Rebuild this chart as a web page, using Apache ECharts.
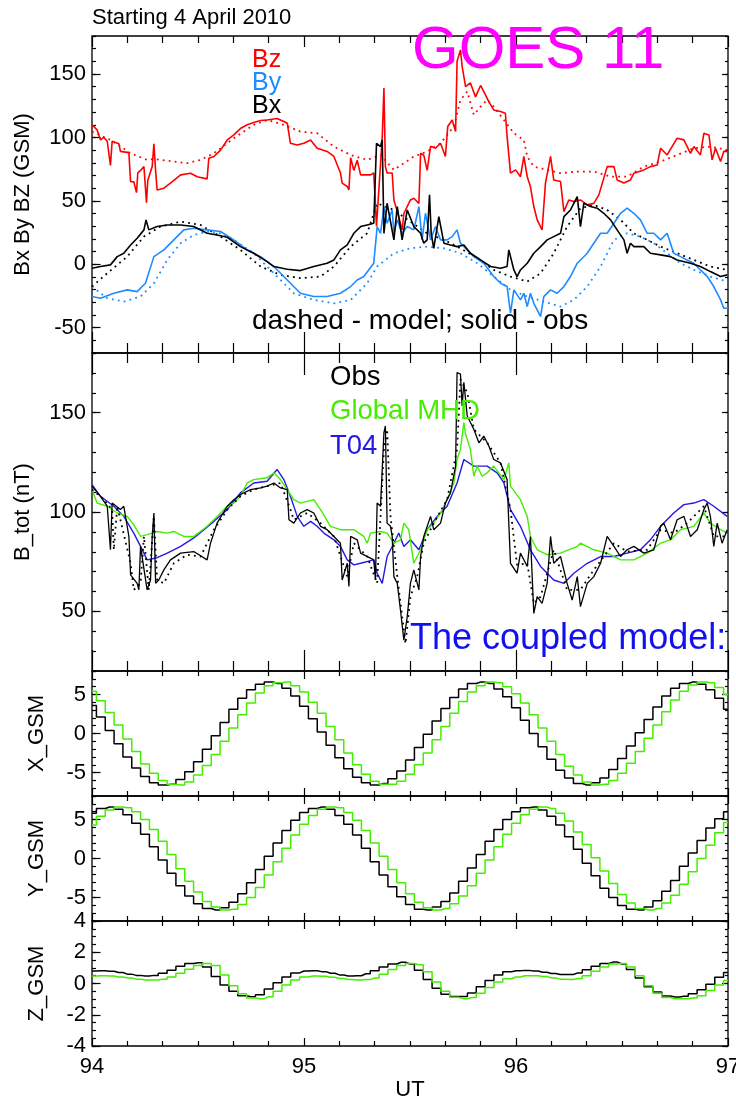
<!DOCTYPE html>
<html>
<head>
<meta charset="utf-8">
<title>GOES 11</title>
<script src="https://cdn.jsdelivr.net/npm/echarts@6/dist/echarts.min.js"></script>
<style>
html, body { margin: 0; padding: 0; background: #fff; }
#main { width: 736px; height: 1103px; }
</style>
</head>
<body>
<div id="main"></div>
<script>
// panel 1: field components, [day of year, nT]
var bzObs = [[94.000,110],[94.024,106],[94.040,98],[94.056,100],[94.072,97],[94.087,78],[94.095,97],[94.127,95],[94.134,89],[94.174,88],[94.182,65],[94.197,65],[94.210,56.5],[94.216,72],[94.229,74],[94.245,77],[94.257,48.6],[94.263,66],[94.284,77],[94.292,95],[94.300,74],[94.307,58.6],[94.339,60],[94.370,64],[94.418,70.5],[94.465,71.8],[94.496,69],[94.543,67.3],[94.551,83.6],[94.575,85],[94.606,90],[94.638,98],[94.669,102],[94.700,107],[94.732,110],[94.763,111.7],[94.795,113.3],[94.826,113.8],[94.873,115],[94.905,112.5],[94.921,111.2],[94.936,95.4],[94.968,94],[94.999,95.4],[95.031,98],[95.062,91.5],[95.109,89],[95.141,85],[95.172,72],[95.180,64],[95.204,61.3],[95.212,58.6],[95.220,84],[95.235,74],[95.251,82],[95.267,70.5],[95.314,70.5],[95.329,72],[95.342,30],[95.369,100],[95.377,139],[95.384,77],[95.392,72],[95.416,72],[95.424,50.7],[95.440,41.5],[95.463,27],[95.471,40],[95.502,50.7],[95.518,52],[95.542,48],[95.550,87.5],[95.565,86],[95.581,74],[95.597,93],[95.620,91.5],[95.644,95.4],[95.667,85],[95.678,108.6],[95.699,113.8],[95.715,104.6],[95.722,160],[95.738,169],[95.746,156],[95.762,140],[95.785,143],[95.809,132],[95.833,141],[95.856,133.5],[95.872,128],[95.895,121.7],[95.927,120.4],[95.950,119.1],[95.958,100.7],[95.974,71.8],[95.998,74.4],[96.021,69],[96.037,85],[96.053,69],[96.068,61.3],[96.084,45.5],[96.100,35],[96.123,27],[96.139,64],[96.163,85],[96.178,66.5],[96.210,65.2],[96.226,41.5],[96.249,50.7],[96.273,49.4],[96.304,50.7],[96.336,46.8],[96.367,48],[96.391,54.7],[96.430,77],[96.462,77],[96.477,66.5],[96.509,64],[96.540,66.5],[96.556,71.8],[96.603,74.4],[96.634,77],[96.666,78.3],[96.682,91.5],[96.713,86.2],[96.760,99.4],[96.792,98.1],[96.823,87.5],[96.839,92.8],[96.870,86.2],[96.886,103.3],[96.910,102],[96.925,82.3],[96.941,91.5],[96.965,81],[96.980,89],[97.000,89]];
var bzModel = [[94.000,104.6],[94.087,98.1],[94.182,87.5],[94.260,82.3],[94.292,83],[94.386,81],[94.449,79.7],[94.512,82.3],[94.575,87.5],[94.669,99.4],[94.763,109.9],[94.826,113.8],[94.905,109.9],[94.983,104.6],[95.062,103.3],[95.141,92.8],[95.220,86.2],[95.298,82.3],[95.361,86.2],[95.424,74.4],[95.471,79.7],[95.518,84.9],[95.581,88.9],[95.644,95.4],[95.707,108.6],[95.738,129.6],[95.770,136.2],[95.801,117.8],[95.833,124.3],[95.864,129.6],[95.895,124.3],[95.943,113.8],[95.990,103.3],[96.037,98.1],[96.053,84.9],[96.084,77],[96.147,74.4],[96.210,71.8],[96.289,73.1],[96.367,73.1],[96.446,69.1],[96.524,69.1],[96.603,77],[96.682,81],[96.760,86.2],[96.839,91.5],[96.917,92.8],[96.996,90.2]];
var bxObs = [[94.000,-3.2],[94.040,-1.8],[94.087,-0.5],[94.119,6],[94.150,8.7],[94.182,15.2],[94.213,20.5],[94.245,27.1],[94.255,35],[94.268,27.1],[94.307,29.7],[94.355,31],[94.418,31],[94.480,29.7],[94.543,24.4],[94.590,23.1],[94.638,21.3],[94.700,13.9],[94.763,8.7],[94.826,2.1],[94.858,-1.8],[94.921,-3.9],[94.983,-5],[95.046,-1.8],[95.109,0.8],[95.141,3.4],[95.172,11.3],[95.204,15.2],[95.235,24.4],[95.267,29.7],[95.298,31],[95.329,32.3],[95.337,33.6],[95.342,95.4],[95.361,92.8],[95.369,98.1],[95.377,24.4],[95.392,48.1],[95.424,19.2],[95.440,45.5],[95.463,19.2],[95.487,42.8],[95.518,29.7],[95.550,24.4],[95.565,16.6],[95.581,19.2],[95.592,54.7],[95.600,24.4],[95.612,12.6],[95.636,37.6],[95.660,16.6],[95.691,15.2],[95.722,13.9],[95.754,15.2],[95.785,8.7],[95.833,3.4],[95.880,-1.8],[95.927,-3.2],[95.958,-1.8],[95.966,11.3],[95.990,-4.5],[96.005,-9.7],[96.021,-4.5],[96.053,0.8],[96.084,8.7],[96.116,13.9],[96.147,19.2],[96.178,21.8],[96.210,24.4],[96.226,37.6],[96.257,42.8],[96.289,53.4],[96.304,29.7],[96.320,48.1],[96.351,45.5],[96.383,44.2],[96.414,40.2],[96.446,35],[96.477,27.1],[96.509,19.2],[96.524,8.7],[96.540,16.6],[96.556,13.9],[96.603,13.9],[96.634,8.7],[96.682,7.4],[96.729,6],[96.760,3.4],[96.823,0.8],[96.870,-1.8],[96.917,-5.8],[96.965,-9.7],[96.996,-8.4]];
var bxModel = [[94.000,-17.6],[94.072,-7.1],[94.166,6],[94.245,21.8],[94.323,29.7],[94.418,33.6],[94.512,31],[94.606,21.8],[94.700,11.3],[94.795,-1.8],[94.889,-8.4],[94.983,-11],[95.078,-9.7],[95.141,-1.8],[95.220,13.9],[95.298,24.4],[95.345,48.1],[95.424,42.8],[95.502,33.6],[95.581,24.4],[95.660,19.2],[95.738,12.6],[95.817,4.7],[95.895,-4.5],[95.974,-9.7],[96.053,-13.7],[96.116,-7.1],[96.178,8.7],[96.241,29.7],[96.304,44.2],[96.367,46.8],[96.430,42.8],[96.493,35],[96.556,24.4],[96.619,19.2],[96.682,13.9],[96.760,8.7],[96.839,3.4],[96.917,-1.8],[96.996,-4.5]];
var byObs = [[94.000,-25.5],[94.040,-26.8],[94.103,-22.9],[94.166,-20.2],[94.213,-21.6],[94.252,-15],[94.292,6],[94.339,11.3],[94.386,19.2],[94.433,27.1],[94.480,28.4],[94.543,27.1],[94.606,25.8],[94.669,19.2],[94.732,11.3],[94.795,6],[94.858,-1.8],[94.921,-12.4],[94.983,-22.9],[95.046,-25.5],[95.109,-25.5],[95.172,-22.9],[95.220,-17.6],[95.251,-12.4],[95.282,-9.7],[95.329,0.8],[95.345,29.7],[95.361,24.4],[95.377,45.5],[95.392,32.3],[95.416,42.8],[95.424,24.4],[95.440,35],[95.463,24.4],[95.487,29.7],[95.518,27.1],[95.542,45.5],[95.557,19.2],[95.573,40.2],[95.597,19.2],[95.620,29.7],[95.644,19.2],[95.675,19.2],[95.699,21.8],[95.722,27.1],[95.738,16.6],[95.770,11.3],[95.801,6],[95.848,0.8],[95.895,-9.7],[95.927,-15],[95.958,-17.6],[95.974,-38.6],[95.990,-20.2],[96.021,-28.1],[96.037,-22.9],[96.053,-33.4],[96.068,-22.9],[96.084,-30.8],[96.116,-41.3],[96.131,-25.5],[96.163,-20.2],[96.194,-22.9],[96.226,-17.6],[96.257,-9.7],[96.289,0.8],[96.336,8.7],[96.367,16.6],[96.399,24.4],[96.430,24.4],[96.462,32.3],[96.493,40.2],[96.524,44.2],[96.556,40.2],[96.587,35],[96.619,24.4],[96.650,24.4],[96.682,19.2],[96.713,24.4],[96.744,8.7],[96.776,6],[96.807,3.4],[96.839,0.8],[96.870,-4.5],[96.902,-9.7],[96.933,-17.6],[96.965,-28.1],[96.980,-34.7],[97.000,-34.7]];
var byModel = [[94.000,-17.6],[94.072,-26.8],[94.150,-29.4],[94.229,-25.5],[94.292,-15],[94.355,3.4],[94.418,16.6],[94.480,23.1],[94.543,25.8],[94.606,24.4],[94.669,19.2],[94.763,8.7],[94.858,-7.1],[94.952,-22.9],[95.046,-28.1],[95.141,-30.8],[95.220,-28.1],[95.298,-15],[95.345,-1.8],[95.424,8.7],[95.502,12.6],[95.581,13.9],[95.660,12.6],[95.738,8.7],[95.817,0.8],[95.895,-9.7],[95.974,-20.2],[96.053,-25.5],[96.131,-29.4],[96.210,-33.4],[96.273,-28.1],[96.336,-17.6],[96.399,-1.8],[96.462,19.2],[96.524,24.4],[96.587,21.8],[96.650,16.6],[96.713,8.7],[96.776,0.8],[96.839,-4.5],[96.917,-9.7],[96.996,-13.7]];

// panel 2: total field, [day of year, nT]
var btObs = [[94.000,113],[94.040,107.9],[94.072,102.9],[94.087,81],[94.095,104.5],[94.134,101.2],[94.150,102.9],[94.174,87.7],[94.182,68.4],[94.213,64.1],[94.221,60.8],[94.229,82.7],[94.260,60.8],[94.276,65.8],[94.284,87.7],[94.292,99.5],[94.300,64.1],[94.315,65.8],[94.339,70.9],[94.370,75.9],[94.418,79.3],[94.480,80.1],[94.543,75.9],[94.559,84.3],[94.590,94.4],[94.638,102.9],[94.669,106.2],[94.700,108.8],[94.748,111.3],[94.795,112.1],[94.826,113],[94.858,114.6],[94.889,112.1],[94.921,111.3],[94.929,96.1],[94.952,94.4],[94.983,99.5],[95.015,101.2],[95.046,99.5],[95.078,92.8],[95.109,91.1],[95.141,87.7],[95.172,84.3],[95.180,65.8],[95.204,74.2],[95.212,62.5],[95.220,87.7],[95.251,86],[95.267,79.3],[95.329,75.9],[95.337,65.8],[95.345,104.5],[95.361,102.9],[95.377,139.9],[95.384,143.3],[95.392,94.4],[95.408,92.8],[95.416,87.7],[95.424,67.5],[95.440,64.1],[95.455,50.7],[95.471,35.5],[95.487,47.3],[95.502,64.1],[95.518,70.9],[95.542,60.8],[95.550,77.6],[95.565,87.7],[95.597,97.8],[95.612,91.1],[95.644,94.4],[95.667,104.5],[95.691,109.6],[95.715,123.1],[95.722,170.2],[95.738,169.4],[95.746,153.4],[95.754,165.2],[95.770,148.3],[95.801,141.6],[95.825,134.8],[95.848,138.2],[95.872,133.2],[95.895,126.4],[95.927,124.7],[95.958,116.3],[95.966,94.4],[95.974,74.2],[96.005,69.2],[96.021,79.3],[96.053,72.6],[96.068,87.7],[96.084,49],[96.100,57.4],[96.123,54],[96.147,64.1],[96.163,87.7],[96.178,74.2],[96.210,77.6],[96.241,64.1],[96.265,55.7],[96.289,67.5],[96.304,52.4],[96.336,64.1],[96.367,67.5],[96.399,74.2],[96.430,87.7],[96.462,82.7],[96.493,77.6],[96.524,81],[96.556,82.7],[96.603,79.3],[96.650,81],[96.682,92.8],[96.697,94.4],[96.729,86],[96.760,96.1],[96.792,97.8],[96.823,87.7],[96.855,91.1],[96.886,101.2],[96.902,104.5],[96.917,97.8],[96.933,82.7],[96.949,94.4],[96.972,84.3],[96.996,91.1]];
var btCoupled = [[94.000,111.3],[94.056,106.2],[94.095,101.2],[94.103,81],[94.119,102.9],[94.182,74.2],[94.197,60.8],[94.229,64.1],[94.245,87.7],[94.268,60.8],[94.292,97.8],[94.307,65.8],[94.339,64.1],[94.386,74.2],[94.449,78.5],[94.512,77.6],[94.575,91.1],[94.638,101.2],[94.700,107.9],[94.763,111.3],[94.826,113],[94.889,114.6],[94.936,101.2],[94.952,96.1],[95.015,99.5],[95.078,94.4],[95.141,87.7],[95.204,67.5],[95.235,84.3],[95.298,77.6],[95.345,64.1],[95.377,131.5],[95.392,141.6],[95.408,97.8],[95.440,67.5],[95.463,47.3],[95.479,33.8],[95.502,57.4],[95.534,67.5],[95.565,84.3],[95.612,94.4],[95.675,106.2],[95.722,131.5],[95.738,166.8],[95.770,160.1],[95.801,141.6],[95.864,134.8],[95.927,124.7],[95.974,101.2],[96.005,73.4],[96.053,74.2],[96.084,54],[96.116,57.4],[96.178,81],[96.241,60.8],[96.304,60.8],[96.367,70.9],[96.462,84.3],[96.524,80.1],[96.619,81],[96.682,91.1],[96.744,89.4],[96.807,94.4],[96.886,102.9],[96.933,87.7],[96.996,87.7]];
var btMhd = [[94.000,111.3],[94.024,104.5],[94.072,102.9],[94.119,99.5],[94.166,97.8],[94.197,93.6],[94.229,87.7],[94.260,88.6],[94.307,90.2],[94.355,89.4],[94.386,90.2],[94.433,87.7],[94.480,87.7],[94.543,92.8],[94.590,97.8],[94.638,102.9],[94.669,104.5],[94.700,107.9],[94.732,114.6],[94.763,116.3],[94.826,117.2],[94.858,119.7],[94.889,116.3],[94.921,111.3],[94.952,106.2],[94.983,104.5],[95.046,106.2],[95.078,101.2],[95.125,92.8],[95.172,91.1],[95.235,91.1],[95.282,87.7],[95.298,84.3],[95.314,89.4],[95.361,90.2],[95.392,89.4],[95.424,84.3],[95.455,86],[95.471,94.4],[95.494,91.1],[95.518,74.2],[95.550,81],[95.581,91.1],[95.612,94.4],[95.644,99.5],[95.675,106.2],[95.707,114.6],[95.722,126.4],[95.738,131.5],[95.754,145],[95.762,139.1],[95.785,131.5],[95.801,118],[95.817,123.1],[95.840,118],[95.864,119.7],[95.895,123.1],[95.943,116.3],[95.966,124.7],[95.974,113],[96.021,106.2],[96.053,97.8],[96.068,87.7],[96.100,81],[96.147,78.5],[96.210,79.3],[96.289,82.7],[96.304,84.3],[96.367,81],[96.430,79.3],[96.493,75.9],[96.556,75.9],[96.619,79.3],[96.682,84.3],[96.729,86],[96.776,91.1],[96.839,92.8],[96.886,99.5],[96.917,94.4],[96.965,91.1],[96.996,89.4]];
var btT04 = [[94.000,113.8],[94.040,107.9],[94.103,102.9],[94.150,97.8],[94.197,89.4],[94.229,82.7],[94.260,75.9],[94.307,77],[94.355,79.3],[94.418,82.7],[94.480,87],[94.528,91.1],[94.575,95.3],[94.638,101.2],[94.700,109.6],[94.763,114.6],[94.826,115.5],[94.873,121.4],[94.905,116.3],[94.936,107.9],[94.968,97.8],[94.999,92.8],[95.031,95.3],[95.062,92.8],[95.094,89.4],[95.141,86],[95.172,82.7],[95.204,75.9],[95.235,73.4],[95.267,74.2],[95.329,75.9],[95.345,69.2],[95.369,64.1],[95.392,77.6],[95.424,84.3],[95.447,89.4],[95.471,82.7],[95.502,86],[95.542,81],[95.581,91.1],[95.628,97.8],[95.675,102.9],[95.722,114.6],[95.754,126.4],[95.801,123.1],[95.864,123.1],[95.911,119.7],[95.943,114.6],[95.974,101.2],[96.021,92.8],[96.068,81],[96.116,72.6],[96.178,65.8],[96.226,64.1],[96.273,69.2],[96.336,74.2],[96.399,77.6],[96.462,77.6],[96.524,79.3],[96.587,81],[96.634,86],[96.682,92.8],[96.744,99.5],[96.792,103.7],[96.839,104.5],[96.886,106.2],[96.933,102.9],[96.996,97.8]];

// panels 3-5: hourly positions (Re), hour 0 = day 94.0
var utHours = [];
for (var i = 0; i <= 72; i++) utHours.push(94 + i / 24);
var xObs = [3.6,2.1,0.4,-1.3,-3.0,-4.4,-5.5,-6.3,-6.6,-6.5,-5.9,-4.9,-3.6,-2.0,-0.3,1.4,3.1,4.5,5.6,6.3,6.6,6.4,5.8,4.8,
  3.5,1.9,0.2,-1.5,-3.1,-4.5,-5.6,-6.3,-6.6,-6.4,-5.8,-4.8,-3.4,-1.8,-0.1,1.6,3.2,4.6,5.7,6.4,6.6,6.4,5.7,4.7,
  3.3,1.7,0.0,-1.7,-3.3,-4.7,-5.7,-6.4,-6.6,-6.3,-5.7,-4.6,-3.2,-1.6,0.1,1.8,3.4,4.8,5.8,6.4,6.6,6.3,5.6,4.5,3.1];
var xMhd = [5.4,4.2,2.7,1.1,-0.7,-2.3,-3.9,-5.1,-6.0,-6.5,-6.6,-6.2,-5.3,-4.1,-2.7,-1.0,0.7,2.4,3.9,5.2,6.1,6.5,6.6,6.1,
  5.3,4.0,2.6,0.9,-0.8,-2.5,-4.0,-5.2,-6.1,-6.5,-6.5,-6.1,-5.2,-4.0,-2.5,-0.8,0.9,2.6,4.1,5.3,6.1,6.6,6.5,6.0,
  5.1,3.9,2.4,0.7,-1.0,-2.7,-4.2,-5.3,-6.2,-6.6,-6.5,-6.0,-5.1,-3.8,-2.3,-0.6,1.1,2.8,4.3,5.4,6.2,6.6,6.5,5.9,5.0];
var yObs = [5.8,6.4,6.6,6.3,5.6,4.5,3.1,1.5,-0.2,-1.9,-3.5,-4.8,-5.8,-6.4,-6.6,-6.3,-5.6,-4.5,-3.1,-1.4,0.3,2.0,3.6,4.9,
  5.9,6.4,6.6,6.3,5.5,4.4,3.0,1.3,-0.4,-2.1,-3.6,-4.9,-5.9,-6.5,-6.6,-6.2,-5.5,-4.4,-2.9,-1.2,0.5,2.2,3.7,5.0,
  6.0,6.5,6.6,6.2,5.4,4.3,2.8,1.2,-0.6,-2.2,-3.8,-5.0,-6.0,-6.5,-6.6,-6.2,-5.4,-4.2,-2.8,-1.0,0.7,2.3,3.9,5.1,6.0];
var yMhd = [4.3,5.4,6.2,6.6,6.5,6.0,5.0,3.7,2.2,0.5,-1.3,-2.9,-4.3,-5.5,-6.2,-6.6,-6.5,-5.9,-5.0,-3.7,-2.1,-0.4,1.3,3.0,
  4.4,5.5,6.3,6.6,6.5,5.9,4.9,3.6,2.0,0.3,-1.4,-3.1,-4.5,-5.6,-6.3,-6.6,-6.4,-5.8,-4.8,-3.5,-1.9,-0.2,1.5,3.1,
  4.5,5.6,6.3,6.6,6.4,5.8,4.8,3.4,1.8,0.1,-1.6,-3.2,-4.6,-5.7,-6.4,-6.6,-6.4,-5.7,-4.7,-3.3,-1.7,0.0,1.7,3.3,4.6];
var zObs = [0.80,0.82,0.78,0.70,0.60,0.52,0.48,0.52,0.65,0.85,1.10,1.28,1.33,1.05,0.45,-0.10,-0.50,-0.78,-0.85,-0.72,-0.35,0.05,0.42,0.68,
  0.80,0.82,0.76,0.66,0.55,0.48,0.50,0.62,0.82,1.05,1.25,1.36,1.25,0.85,0.25,-0.30,-0.68,-0.83,-0.83,-0.60,-0.20,0.20,0.55,0.75,
  0.82,0.84,0.80,0.72,0.64,0.58,0.58,0.68,0.88,1.10,1.28,1.37,1.25,0.90,0.35,-0.20,-0.55,-0.80,-0.86,-0.82,-0.65,-0.40,-0.05,0.40,0.70];
var zMhd = [0.48,0.50,0.48,0.42,0.35,0.28,0.23,0.22,0.28,0.42,0.65,0.92,1.15,1.28,1.15,0.55,-0.15,-0.65,-0.92,-0.97,-0.85,-0.50,-0.10,0.22,
  0.42,0.48,0.46,0.40,0.32,0.26,0.22,0.25,0.35,0.60,0.90,1.15,1.28,1.20,0.75,0.10,-0.50,-0.88,-0.97,-0.90,-0.62,-0.25,0.10,0.30,
  0.42,0.50,0.50,0.45,0.36,0.28,0.26,0.32,0.50,0.78,1.05,1.25,1.28,1.05,0.50,-0.15,-0.62,-0.90,-0.97,-0.97,-0.92,-0.78,-0.45,-0.10,0.20];

// tick labels
var xTicks = [94, 95, 96, 97];

var FONT = '"Liberation Sans", Arial, Helvetica, sans-serif';
var RED = '#ff0000', SKY = '#1e8cff', GREEN = '#44ee00', T04BLUE = '#2418e6';

var panels = [
  {top: 36,  height: 317, min: -70, max: 180, minor: 10,  majors: [-50, 0, 50, 100, 150], name: 'Bx By BZ (GSM)', gap: 58, xt: [11, 7], xb: [21, 10]},
  {top: 353, height: 318, min: 20,  max: 180, minor: 10,  majors: [50, 100, 150],          name: 'B_tot (nT)',     gap: 58, xt: [22, 10], xb: [21, 10]},
  {top: 671, height: 125, min: -8,  max: 8,   minor: 1,   majors: [-5, 0, 5],              name: 'X_GSM',          gap: 44, xt: [8, 5], xb: [8, 5]},
  {top: 796, height: 125, min: -8,  max: 8,   minor: 1,   majors: [-5, 0, 5],              name: 'Y_GSM',          gap: 44, xt: [8, 5], xb: [8, 5]},
  {top: 921, height: 125, min: -4,  max: 4,   minor: 0.5, majors: [-4, -2, 0, 2, 4],       name: 'Z_GSM',          gap: 44, xt: [8, 5], xb: [8, 5]}
];

// minor tick positions (4 hours on the time axis)
var xMinor = [];
for (var k = 1; k < 18; k++) if (k % 6) xMinor.push(94 + k / 6);
function steps(min, max, d) {
  var out = [];
  for (var v = min; v <= max + 1e-9; v += d) out.push(Math.round(v * 1000) / 1000);
  return out;
}

var grids = [], xAxes = [], yAxes = [];
var black = {color: '#000', width: 1.2};
var noLine = {show: false, onZero: false};
panels.forEach(function (p, g) {
  grids.push({left: 92, width: 636, top: p.top, height: p.height, show: true,
    borderColor: '#000', borderWidth: 1.3, backgroundColor: 'transparent',
    containLabel: false, outerBoundsMode: 'none'});
  var last = g === panels.length - 1;
  // time axes: major + minor ticks, bottom and top
  [['bottom', p.xb], ['top', p.xt]].forEach(function (d) {
    var withLabel = last && d[0] === 'bottom';
    xAxes.push({
      type: 'value', gridIndex: g, position: d[0], min: 94, max: 97,
      axisLine: noLine, splitLine: {show: false},
      axisTick: {show: true, inside: true, length: d[1][0], lineStyle: black, customValues: xTicks},
      axisLabel: {show: withLabel, color: '#000', fontSize: 22, fontFamily: FONT, margin: 10,
        customValues: xTicks, showMinLabel: true, showMaxLabel: true},
      name: withLabel ? 'UT' : '',
      nameLocation: 'middle', nameGap: 33,
      nameTextStyle: {color: '#000', fontSize: 22, fontFamily: FONT}
    });
    xAxes.push({
      type: 'value', gridIndex: g, position: d[0], min: 94, max: 97,
      axisLine: noLine, splitLine: {show: false}, axisLabel: {show: false},
      axisTick: {show: true, inside: true, length: d[1][1], lineStyle: black, customValues: xMinor}
    });
  });
  // left axis: major ticks + labels + title
  yAxes.push({
    type: 'value', gridIndex: g, position: 'left', min: p.min, max: p.max,
    axisLine: noLine, splitLine: {show: false},
    axisTick: {show: true, inside: true, length: 8.5, lineStyle: black, customValues: p.majors},
    axisLabel: {show: true, color: '#000', fontSize: 22, fontFamily: FONT, margin: 6, customValues: p.majors,
      showMinLabel: true, showMaxLabel: true},
    name: p.name, nameLocation: 'middle', nameGap: p.gap, nameRotate: 90,
    nameTextStyle: {color: '#000', fontSize: 22, fontFamily: FONT}
  });
  // right axis: major ticks
  yAxes.push({
    type: 'value', gridIndex: g, position: 'right', min: p.min, max: p.max,
    axisLine: noLine, splitLine: {show: false}, axisLabel: {show: false},
    axisTick: {show: true, inside: true, length: 6, lineStyle: black, customValues: p.majors}
  });
  // minor ticks, both sides
  var minors = steps(p.min, p.max, p.minor);
  ['left', 'right'].forEach(function (side) {
    yAxes.push({
      type: 'value', gridIndex: g, position: side, min: p.min, max: p.max,
      axisLine: noLine, splitLine: {show: false}, axisLabel: {show: false},
      axisTick: {show: true, inside: true, length: side === 'left' ? 4 : 3, lineStyle: black, customValues: minors}
    });
  });
});

function mk(name, data, g, color, width, dotted, step) {
  return {
    name: name, type: 'line', xAxisIndex: 4 * g, yAxisIndex: 4 * g, data: data,
    symbol: 'none', step: step || false, animation: false, silent: true,
    lineStyle: {color: color, width: width, type: dotted ? [1.8, 4.2] : 'solid'}
  };
}
function hourly(vals) {
  return vals.map(function (v, i) { return [utHours[i], v]; });
}

var series = [
  mk('Bz model', bzModel, 0, RED, 1.8, true),
  mk('By model', byModel, 0, SKY, 1.8, true),
  mk('Bx model', bxModel, 0, '#000', 1.8, true),
  mk('Bz', bzObs, 0, RED, 1.6),
  mk('By', byObs, 0, SKY, 1.6),
  mk('Bx', bxObs, 0, '#000', 1.6),
  mk('T04', btT04, 1, T04BLUE, 1.4),
  mk('Global MHD', btMhd, 1, GREEN, 1.4),
  mk('Coupled', btCoupled, 1, '#000', 1.8, true),
  mk('Obs', btObs, 1, '#000', 1.3),
  mk('X obs', hourly(xObs), 2, '#000', 1.5, false, 'middle'),
  mk('X mhd', hourly(xMhd), 2, GREEN, 1.5, false, 'middle'),
  mk('Y obs', hourly(yObs), 3, '#000', 1.5, false, 'middle'),
  mk('Y mhd', hourly(yMhd), 3, GREEN, 1.5, false, 'middle'),
  mk('Z obs', hourly(zObs), 4, '#000', 1.5, false, 'middle'),
  mk('Z mhd', hourly(zMhd), 4, GREEN, 1.5, false, 'middle')
];

function txt(x, y, s, color, size) {
  return {type: 'text', x: x, y: y, z: 100, silent: true,
    style: {text: s, fill: color, fontSize: size, fontFamily: FONT, verticalAlign: 'middle', align: 'left'}};
}

var chart = echarts.init(document.getElementById('main'), null, {renderer: 'canvas'});
chart.setOption({
  animation: false,
  backgroundColor: '#fff',
  grid: grids,
  xAxis: xAxes,
  yAxis: yAxes,
  series: series,
  graphic: [
    txt(92, 18, 'Starting 4 April 2010', '#000', 22),
    txt(412, 51, 'GOES 11', '#ff00ff', 60),
    txt(252, 60, 'Bz', RED, 25),
    txt(252, 83, 'By', SKY, 25),
    txt(252, 106, 'Bx', '#000', 25),
    txt(252, 321, 'dashed - model; solid - obs', '#000', 28),
    txt(330, 377, 'Obs', '#000', 27.5),
    txt(330, 411, 'Global MHD', GREEN, 27.5),
    txt(330, 446, 'T04', T04BLUE, 27.5),
    txt(410, 639, 'The coupled model:', '#1010f0', 36)
  ]
});
</script>
</body>
</html>
